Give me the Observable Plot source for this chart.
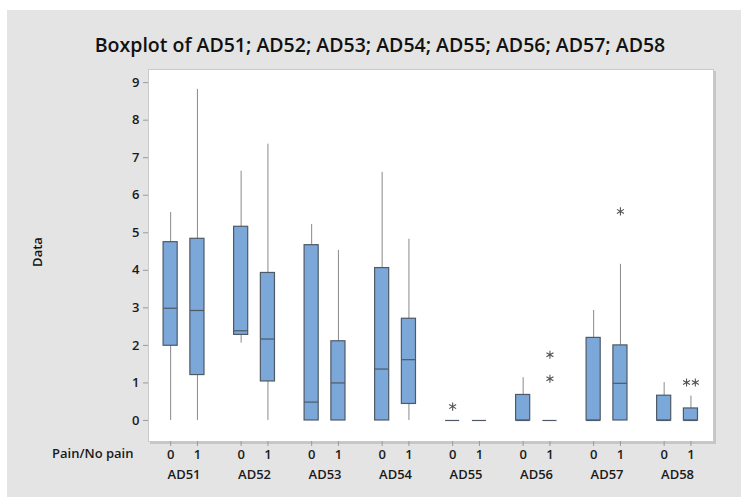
<!DOCTYPE html>
<html>
<head>
<meta charset="utf-8">
<script src="https://cdn.jsdelivr.net/npm/d3@7"></script>
<script src="https://cdn.jsdelivr.net/npm/@observablehq/plot@0.6"></script>
<style>
  html, body { margin: 0; padding: 0; background: #ffffff; }
  #wrap { position: absolute; left: 7px; top: 10px; width: 734px; height: 487px; background: #e4e4e4; overflow: hidden; }
  #title { position: absolute; left: 6px; top: 23px; width: 100%; text-align: center;
           font-family: "Open Sans", sans-serif; font-weight: 600; font-size: 19.5px; color: #111; line-height: 24px; }
  #ylabel { position: absolute; left: 15px; top: 233px; width: 30px; height: 18px; line-height: 18px; text-align: center;
            font-family: "Open Sans", sans-serif; font-weight: 600; font-size: 13px;
            color: #111; transform: rotate(-90deg); transform-origin: center; }
  #chart { position: absolute; left: 0; top: 50px; }
</style>
</head>
<body>
<div id="wrap">
  <div id="title">Boxplot of AD51; AD52; AD53; AD54; AD55; AD56; AD57; AD58</div>
  <div id="ylabel">Data</div>
  <div id="chart"></div>
</div>
<script>
// ---- data ----
const groups = ["AD51", "AD52", "AD53", "AD54", "AD55", "AD56", "AD57", "AD58"];
const painLevels = ["0", "1"];
// one value per box, order: AD51-0, AD51-1, AD52-0, AD52-1, ...
const whiskerLow  = [0, 0, 2.06, 0, 0, 0, 0, 0, 0, 0, 0, 0, 0, 0, 0, 0];
const q1          = [1.99, 1.21, 2.28, 1.04, 0, 0, 0, 0.44, 0, 0, 0, 0, 0, 0, 0, 0];
const median      = [2.99, 2.93, 2.39, 2.17, 0.49, 1.0, 1.37, 1.62, 0, 0, 0, 0, 0, 0.99, 0, 0];
const q3          = [4.75, 4.84, 5.16, 3.93, 4.67, 2.11, 4.06, 2.71, 0, 0, 0.68, 0, 2.2, 2.0, 0.66, 0.32];
const whiskerHigh = [5.54, 8.82, 6.64, 7.36, 5.22, 4.53, 6.61, 4.83, 0, 0, 1.14, 0, 2.93, 4.16, 1.01, 0.65];
const outlierGroup = ["AD55", "AD56", "AD56", "AD57", "AD58", "AD58"];
const outlierPain  = ["0", "1", "1", "1", "1", "1"];
const outlierValue = [0.37, 1.11, 1.75, 5.57, 1.01, 1.01];
const yTicks = [0, 1, 2, 3, 4, 5, 6, 7, 8, 9];

// ---- build tables ----
const offset = 0.19, half = 0.1;
const posOf = (g, p) => groups.indexOf(g) + (p === "0" ? -offset : offset);
const rows = [];
groups.forEach((g, gi) => painLevels.forEach((p, pi) => {
  const i = gi * 2 + pi;
  rows.push({group: g, pain: p, pos: posOf(g, p), lo: whiskerLow[i], q1: q1[i], med: median[i], q3: q3[i], hi: whiskerHigh[i]});
}));
const outliers = outlierValue.map((v, i) => ({group: outlierGroup[i], pain: outlierPain[i], value: v}));
// tied outliers are placed side by side, as Minitab does
outliers.forEach((o) => {
  const ties = outliers.filter(t => t.group === o.group && t.pain === o.pain && t.value === o.value);
  const k = ties.indexOf(o);
  o.pos = posOf(o.group, o.pain) + (k - (ties.length - 1) / 2) * 0.125;
});
const painByPos = new Map(rows.map(d => [d.pos, d.pain]));

const boxFill = "#7ba7d9", boxStroke = "#4e5a66", whiskerColor = "#8a8a8a";

const chart = Plot.plot({
  width: 734,
  height: 437,
  marginLeft: 141,
  marginRight: 28,
  marginTop: 9,
  marginBottom: 56,
  style: {background: "transparent", fontFamily: "'Open Sans', sans-serif", fontSize: "13px", fontWeight: 600, color: "#1a1a1a"},
  x: {domain: [-0.504, 7.51]},
  y: {domain: [-0.56, 9.35]},
  marks: [
    Plot.frame({fill: "#c6c6c6", stroke: "#c6c6c6", dx: 2, dy: 2}),
    Plot.frame({fill: "white", stroke: "#cacaca"}),
    Plot.axisY({ticks: yTicks, tickSize: 5, tickPadding: 4, label: null, stroke: "#9a9a9a", fill: "#1a1a1a"}),
    Plot.axisX({ticks: rows.map(d => d.pos), tickFormat: v => painByPos.get(v), tickSize: 5, tickPadding: 3, label: null, stroke: "#9a9a9a", fill: "#1a1a1a"}),
    Plot.text(groups, {x: (d, i) => i, frameAnchor: "bottom", dy: 37, text: d => d, fill: "#1a1a1a"}),
    Plot.text(["Pain/No pain"], {frameAnchor: "bottom-left", dx: -15, dy: 16, textAnchor: "end", fill: "#1a1a1a"}),
    Plot.ruleX(rows, {x: "pos", y1: "lo", y2: "hi", stroke: whiskerColor, strokeWidth: 1}),
    Plot.rect(rows, {x1: d => d.pos - half, x2: d => d.pos + half, y1: "q1", y2: "q3", fill: boxFill, stroke: boxStroke, strokeWidth: 1.2}),
    Plot.ruleY(rows, {y: "med", x1: d => d.pos - half, x2: d => d.pos + half, stroke: boxStroke, strokeWidth: 1.2}),
    Plot.dot(outliers, {x: "pos", y: "value", symbol: "asterisk", r: 3.8, stroke: "#555555", strokeWidth: 1.1})
  ]
});
document.getElementById("chart").appendChild(chart);
</script>
</body>
</html>
